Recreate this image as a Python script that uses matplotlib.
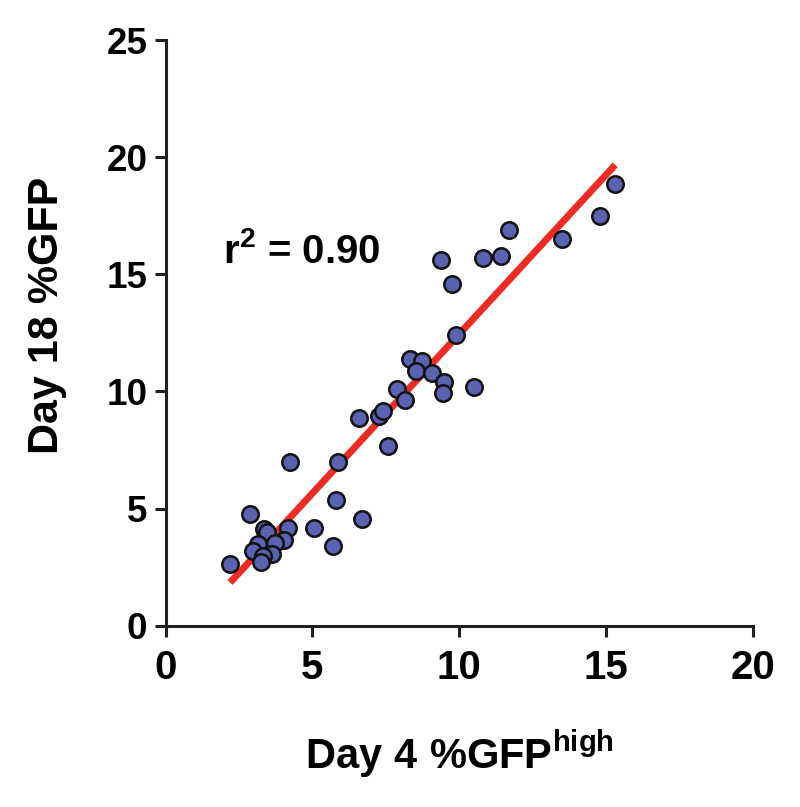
import matplotlib
matplotlib.use("Agg")
import matplotlib.pyplot as plt
import numpy as np

plt.rcParams['font.family'] = ['Liberation Sans', 'DejaVu Sans']
plt.rcParams['font.weight'] = 'bold'
plt.rcParams['mathtext.fontset'] = 'custom'
plt.rcParams['mathtext.rm'] = 'Liberation Sans:bold'
plt.rcParams['mathtext.bf'] = 'Liberation Sans:bold'
plt.rcParams['mathtext.it'] = 'Liberation Sans:bold'

# Data
day4_gfp_high = [2.20, 2.88, 3.36, 3.45, 4.18, 4.04, 3.73, 3.16, 2.99, 3.62,
                 3.33, 3.25, 5.07, 5.81, 6.68, 5.72, 4.24, 5.89, 6.60, 7.27,
                 7.40, 7.59, 7.88, 8.17, 8.33, 8.73, 8.54, 9.07, 9.49, 9.47,
                 10.51, 9.91, 9.38, 9.75, 10.83, 11.42, 11.71, 13.50, 14.80, 15.32]
day18_gfp = [2.62, 4.77, 4.13, 4.01, 4.16, 3.66, 3.52, 3.47, 3.19, 3.06,
             2.99, 2.73, 4.18, 5.36, 4.54, 3.41, 6.97, 6.97, 8.85, 8.95,
             9.16, 7.67, 10.10, 9.63, 11.37, 11.31, 10.88, 10.77, 10.41, 9.92,
             10.20, 12.39, 15.61, 14.58, 15.68, 15.78, 16.89, 16.49, 17.50, 18.85]
fit_slope = 1.359
fit_intercept = -1.15
r_squared = "0.90"
x_ticks = [0, 5, 10, 15, 20]
y_ticks = [0, 5, 10, 15, 20, 25]

axis_color = '#231f20'

fig = plt.figure(figsize=(8.0, 8.07), dpi=100)
ax = fig.add_axes([0.2069, 0.2247, 0.7338, 0.7257])

x = np.array(day4_gfp_high)
y = np.array(day18_gfp)
xf = np.array([x.min(), x.max()])
ax.plot(xf, fit_slope * xf + fit_intercept, color='#ee2a24', lw=5,
        solid_capstyle='butt', zorder=2)
ax.scatter(x, y, s=140, facecolor='#5a62b2', edgecolor='#111111',
           linewidths=1.8, zorder=3, clip_on=False)

ax.set_xlim(0, 20)
ax.set_ylim(0, 25)
ax.set_xticks(x_ticks)
ax.set_yticks(y_ticks)
ax.set_xticklabels([str(t) for t in x_ticks])
ax.set_yticklabels([str(t) for t in y_ticks])

for s in ['top', 'right']:
    ax.spines[s].set_visible(False)
for s in ['left', 'bottom']:
    ax.spines[s].set_linewidth(2.2)
    ax.spines[s].set_color(axis_color)

ax.tick_params(axis='both', direction='out', length=8, width=2.2,
               color=axis_color, labelcolor='black')
ax.tick_params(axis='y', pad=5, labelsize=26.5)
ax.tick_params(axis='x', pad=9, labelsize=29)
for lab in ax.get_xticklabels() + ax.get_yticklabels():
    lab.set_fontweight('bold')

ax.set_xlabel(r'$\mathbf{Day\ 4\ \%GFP}^{\mathbf{high}}$', fontsize=30)
ax.xaxis.set_label_coords(0.5, -0.175)
ax.set_ylabel('Day 18 %GFP', fontsize=31, fontweight='bold')
ax.yaxis.set_label_coords(-0.168, 0.53)

ax.text(1.96, 15.48, r'$\mathbf{r}^{\mathbf{2}}$ = ' + r_squared,
        fontsize=29, fontweight='bold', ha='left', va='baseline')

fig.savefig('out.png', dpi=100)
